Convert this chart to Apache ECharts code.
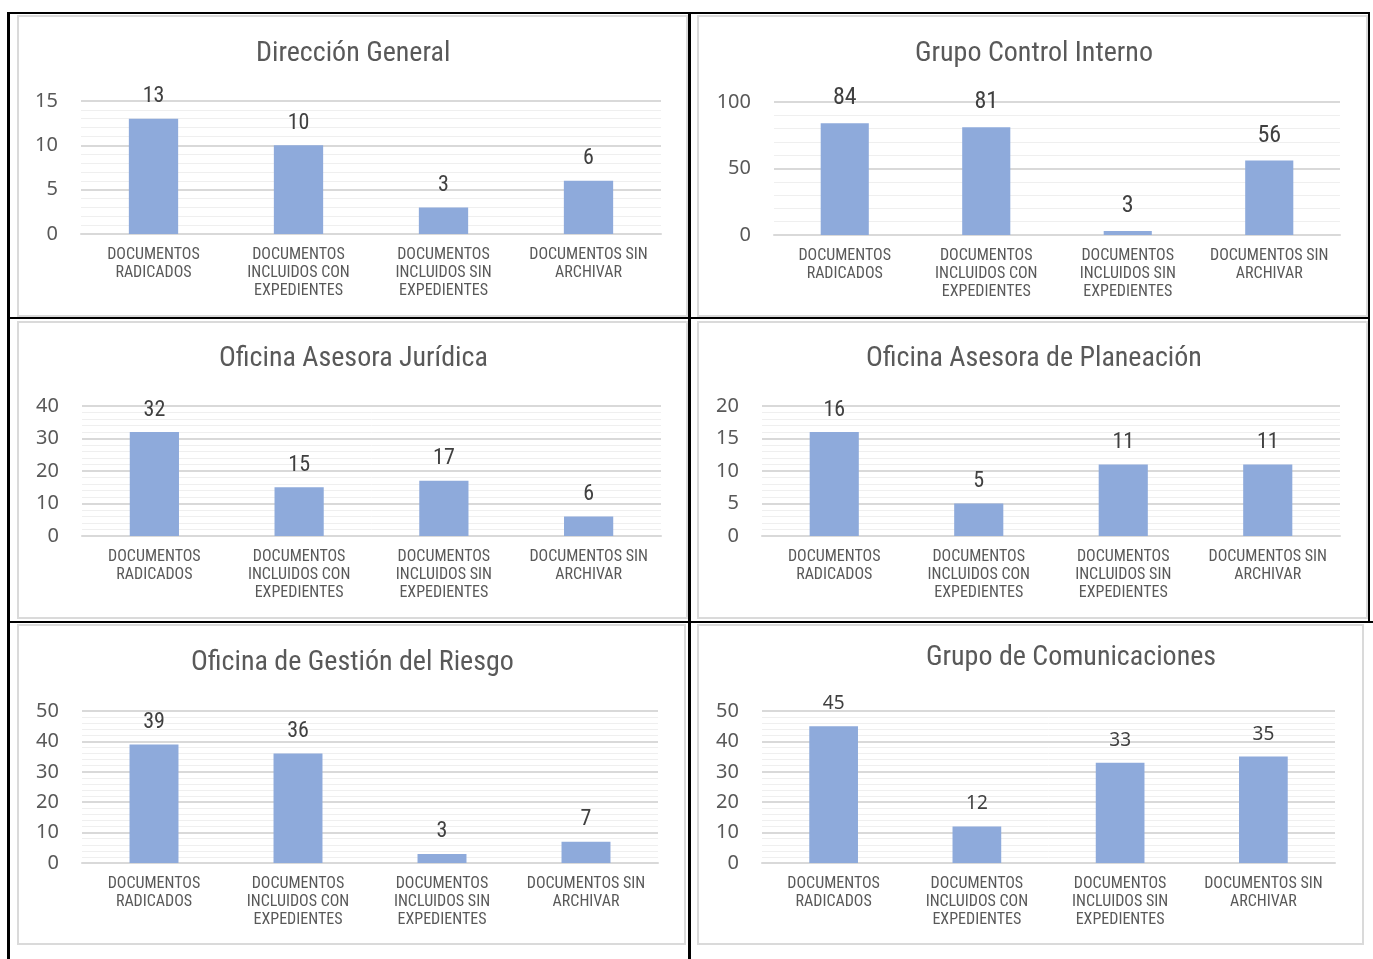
<!DOCTYPE html>
<html><head><meta charset="utf-8">
<script src="https://cdn.jsdelivr.net/npm/echarts@6/dist/echarts.min.js"></script>
<style>
html,body{margin:0;padding:0;background:#fff;width:1373px;height:959px;overflow:hidden;position:relative}
.line{position:absolute;background:#000}
.frame{position:absolute;box-sizing:border-box;border:2px solid #dadada}
.chart{position:absolute}
</style></head><body>
<div class="line" style="left:8px;top:12px;width:1362px;height:2px"></div>
<div class="line" style="left:8px;top:317px;width:1362px;height:2px"></div>
<div class="line" style="left:8px;top:621px;width:1365px;height:2px"></div>
<div class="line" style="left:7px;top:12px;width:3px;height:947px"></div>
<div class="line" style="left:688px;top:12px;width:3px;height:947px"></div>
<div class="line" style="left:1368px;top:12px;width:2px;height:611px"></div>
<div id="wrap"></div>
<script>
// ---- data ----
const categories = ["DOCUMENTOS RADICADOS", "DOCUMENTOS INCLUIDOS CON EXPEDIENTES", "DOCUMENTOS INCLUIDOS SIN EXPEDIENTES", "DOCUMENTOS SIN ARCHIVAR"];
const titles = ["Dirección General", "Grupo Control Interno", "Oficina Asesora Jurídica", "Oficina Asesora de Planeación", "Oficina de Gestión del Riesgo", "Grupo de Comunicaciones"];
const direccionGeneral = [13, 10, 3, 6];
const grupoControlInterno = [84, 81, 3, 56];
const oficinaJuridica = [32, 15, 17, 6];
const oficinaPlaneacion = [16, 5, 11, 11];
const oficinaRiesgo = [39, 36, 3, 7];
const grupoComunicaciones = [45, 12, 33, 35];
const yMax = [15, 100, 40, 20, 50, 50];
const yInterval = [5, 50, 10, 5, 10, 10];
const seriesValues = [direccionGeneral, grupoControlInterno, oficinaJuridica, oficinaPlaneacion, oficinaRiesgo, grupoComunicaciones];

// ---- layout ----
const NARROW = "'Liberation Sans Narrow','Arial Narrow','Roboto Condensed',Roboto,sans-serif";
const TITLE_SIZE = 28;
const panels = [
  {x:17, y:15, w:671, h:302, grid:{left:64, top:86, width:580, height:133}, lblSize:22, lblFont:NARROW, lblDist:11, titleTop:24, titleCx:336},
  {x:697, y:15, w:671, h:302, grid:{left:77, top:87, width:566, height:133}, lblSize:24, lblFont:NARROW, lblDist:13, titleTop:24, titleCx:337},
  {x:17, y:321, w:671, h:298, grid:{left:65, top:85, width:579, height:130}, lblSize:22, lblFont:NARROW, lblDist:11, titleTop:23, titleCx:336},
  {x:697, y:321, w:671, h:298, grid:{left:65, top:85, width:578, height:130}, lblSize:22, lblFont:NARROW, lblDist:11, titleTop:23, titleCx:337},
  {x:17, y:624, w:669, h:321, grid:{left:65, top:87, width:576, height:152}, lblSize:22, lblFont:NARROW, lblDist:11, titleTop:24, titleCx:335},
  {x:697, y:624, w:667, h:321, grid:{left:65, top:87, width:573, height:152}, lblSize:19, lblFont:"'Noto Sans',sans-serif", lblDist:13, titleTop:19, titleCx:374}
];

function wrapLabel(s) {
  const words = s.split(' ');
  const lines = [];
  let cur = '';
  words.forEach(w => {
    const t = cur ? cur + ' ' + w : w;
    if (t.length > 14 && cur) { lines.push(cur); cur = w; } else { cur = t; }
  });
  if (cur) lines.push(cur);
  return lines.join('\n');
}

const measureCtx = document.createElement('canvas').getContext('2d');
function textWidth(txt, size, family) {
  measureCtx.font = size + 'px ' + family;
  return measureCtx.measureText(txt).width;
}

const wrap = document.getElementById('wrap');
panels.forEach((p, i) => {
  const f = document.createElement('div');
  f.className = 'frame';
  f.style.cssText = `left:${p.x}px;top:${p.y}px;width:${p.w}px;height:${p.h}px`;
  wrap.appendChild(f);
  const c = document.createElement('div');
  c.className = 'chart';
  c.style.cssText = `left:${p.x}px;top:${p.y}px;width:${p.w}px;height:${p.h}px`;
  wrap.appendChild(c);
  const chart = echarts.init(c, null, {renderer: 'canvas'});
  const tw = textWidth(titles[i], TITLE_SIZE, NARROW);
  chart.setOption({
    animation: false,
    backgroundColor: 'transparent',
    title: {
      text: titles[i],
      left: Math.round(p.titleCx - tw / 2),
      top: p.titleTop,
      padding: 0,
      textStyle: {fontFamily: NARROW, fontSize: TITLE_SIZE, fontWeight: 'normal', color: '#595959', lineHeight: 30}
    },
    grid: Object.assign({containLabel: false}, p.grid),
    xAxis: {
      type: 'category',
      data: categories,
      axisLine: {show: true, lineStyle: {color: '#d9d9d9', width: 2}},
      axisTick: {show: false},
      axisLabel: {
        interval: 0, margin: 12, color: '#595959',
        fontFamily: NARROW, fontSize: 16, lineHeight: 18,
        formatter: wrapLabel
      }
    },
    yAxis: {
      type: 'value',
      min: 0, max: yMax[i], interval: yInterval[i],
      axisLine: {show: false},
      axisTick: {show: false},
      axisLabel: {margin: 23, color: '#595959', fontFamily: "'Noto Sans',sans-serif", fontSize: 20},
      splitLine: {show: true, lineStyle: {color: '#d9d9d9', width: 2}},
      minorTick: {show: false, splitNumber: 5},
      minorSplitLine: {show: true, lineStyle: {color: '#efefef', width: 1}}
    },
    series: [{
      type: 'bar',
      data: seriesValues[i],
      barWidth: '34%',
      itemStyle: {color: '#8eaadb'},
      label: {
        show: true, position: 'top', distance: p.lblDist,
        color: '#404040', fontFamily: p.lblFont, fontSize: p.lblSize
      }
    }]
  });
});
</script>
</body></html>
